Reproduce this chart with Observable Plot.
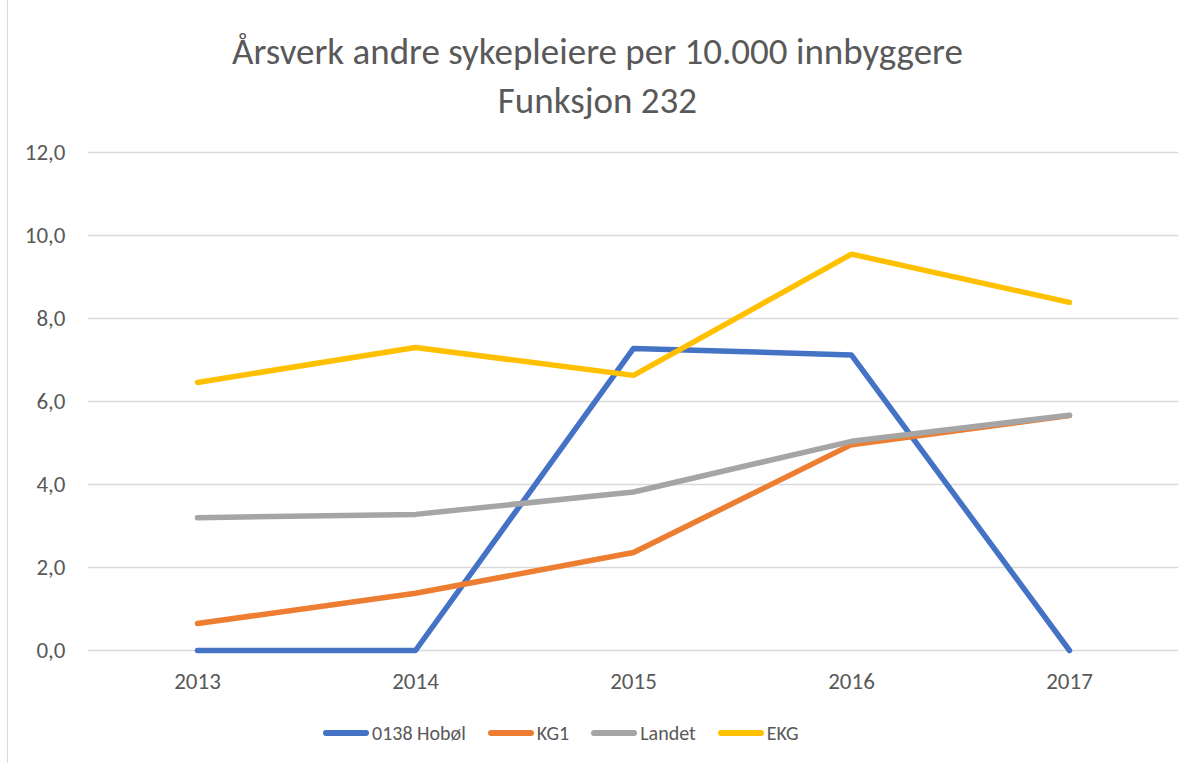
<!DOCTYPE html>
<html>
<head>
<meta charset="utf-8">
<script src="https://cdn.jsdelivr.net/npm/d3@7"></script>
<script src="https://cdn.jsdelivr.net/npm/@observablehq/plot@0.6"></script>
<style>
  html, body { margin: 0; padding: 0; background: #fff; }
  body { width: 1195px; height: 765px; position: relative; overflow: hidden; font-family: Carlito, Lato, "Open Sans", sans-serif; color: #595959; }
  #frame { position: absolute; left: 7px; top: 0; width: 1186px; height: 763px; border-left: 1px solid #d9d9d9; box-sizing: border-box; }
  #title { position: absolute; left: 0; width: 1195px; top: 27px; text-align: center; font-size: 37px; line-height: 49px; color: #595959; }
  #chart { position: absolute; left: 0; top: 130px; }
  #legend { position: absolute; top: 720px; left: 323px; height: 26px; display: flex; align-items: center; font-size: 20px; color: #595959; }
  .item { display: flex; align-items: center; margin-right: 22px; }
  .sw { width: 46px; height: 5.5px; border-radius: 3px; margin-right: 3px; }
</style>
</head>
<body>
<div id="frame"></div>
<div id="title">Årsverk andre sykepleiere per 10.000 innbyggere<br>Funksjon 232</div>
<div id="chart"></div>
<div id="legend"></div>
<script>
const years = ["2013", "2014", "2015", "2016", "2017"];
const seriesNames = ["0138 Hobøl", "KG1", "Landet", "EKG"];
const seriesColors = ["#4472C4", "#ED7D31", "#A5A5A5", "#FFC000"];
const hobol = [0, 0, 7.28, 7.12, 0];
const kg1 = [0.65, 1.38, 2.36, 4.96, 5.66];
const landet = [3.2, 3.28, 3.82, 5.04, 5.67];
const ekg = [6.46, 7.3, 6.63, 9.55, 8.39];
const yTicks = [0, 2, 4, 6, 8, 10, 12];

const allSeries = [hobol, kg1, landet, ekg];
const data = [];
allSeries.forEach((vals, si) => {
  vals.forEach((v, i) => data.push({ series: seriesNames[si], year: years[i], value: v }));
});

const fmt = d => d.toFixed(1).replace(".", ",");

const chart = Plot.plot({
  width: 1195,
  height: 571,
  marginTop: 22,
  marginBottom: 51,
  marginLeft: 88,
  marginRight: 17,
  style: { fontFamily: "Carlito, Lato, 'Open Sans', sans-serif", fontSize: "23px", color: "#595959", background: "transparent" },
  x: { type: "point", domain: years, padding: 0.5, label: null },
  y: { domain: [0, 12], label: null },
  color: { domain: seriesNames, range: seriesColors },
  marks: [
    Plot.ruleY(yTicks, { stroke: "#d9d9d9", strokeWidth: 1.3 }),
    Plot.axisY(yTicks, { tickSize: 0, tickPadding: 23, tickFormat: fmt, label: null, fill: "#595959", fontSize: 23 }),
    Plot.axisX(years, { tickSize: 0, tickPadding: 22, label: null, fill: "#595959", fontSize: 23 }),
    ...seriesNames.map(name =>
      Plot.line(data.filter(d => d.series === name), {
        x: "year", y: "value", stroke: "series",
        strokeWidth: 5.5, strokeLinecap: "round", strokeLinejoin: "round"
      })
    )
  ]
});
document.getElementById("chart").appendChild(chart);

const legend = document.getElementById("legend");
seriesNames.forEach((name, i) => {
  const it = document.createElement("div");
  it.className = "item";
  const sw = document.createElement("div");
  sw.className = "sw";
  sw.style.background = seriesColors[i];
  const t = document.createElement("span");
  t.textContent = name;
  it.appendChild(sw); it.appendChild(t);
  legend.appendChild(it);
});
</script>
</body>
</html>
